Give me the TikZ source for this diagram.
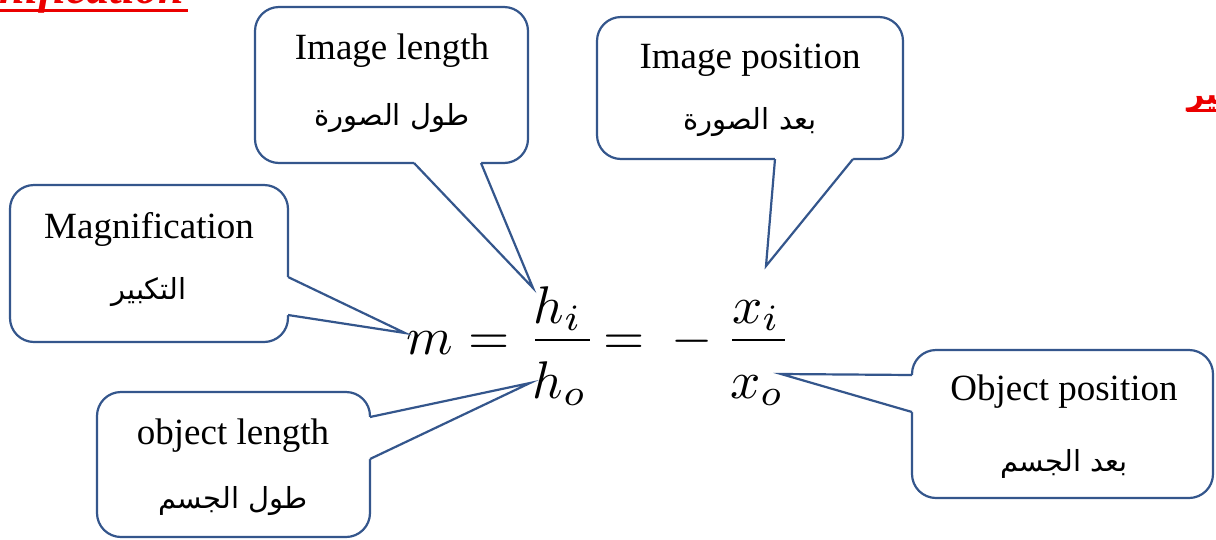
\documentclass[tikz,border=0pt]{standalone}
\usepackage{fontspec}
\setmainfont{Liberation Serif}
\newfontfamily\arabicfont[Script=Arabic]{DejaVu Sans}
\TeXXeTstate=1
\usetikzlibrary{calc}
\definecolor{bcol}{RGB}{52,86,140}
\definecolor{tred}{RGB}{235,0,0}
\tikzset{
  callout/.style={draw=bcol, line width=2.2pt, fill=white, rounded corners=24pt, inner sep=0pt},
  tail/.style={draw=bcol, line width=2.2pt, line join=miter, miter limit=30},
  entext/.style={font=\fontsize{37}{40}\selectfont, inner sep=0pt},
  artext/.style={font=\arabicfont\fontsize{29}{32}\selectfont, inner sep=0pt},
  eqn/.style={scale=5.3, inner sep=0pt, anchor=base},
  fracbar/.style={fill=black, inner sep=0pt, minimum height=2.6pt},
  redtitle/.style={text=tred, inner sep=0pt},
}
\begin{document}
\begin{tikzpicture}[x=1pt,y=-1pt]
\useasboundingbox (0,0) rectangle (1216,539);
\clip (0,0) rectangle (1216,539);
\fill[white] (0,0) rectangle (1216,539);

% ---- red titles (cut off by the page edges)
\node[redtitle, font=\fontsize{46}{50}\selectfont\bfseries\itshape, anchor=base east] (title) at (184,3) {Magnification};
\draw[tred, line width=3pt] ($(title.base west)+(0,7.5)$) -- ($(title.base east)+(4,7.5)$);
\node[redtitle, font=\arabicfont\bfseries\fontsize{30}{34}\selectfont, anchor=base west] (artitle) at (1187,104) {\beginR التكبير\endR};
\draw[tred, line width=3pt] ($(artitle.base west)+(0,6)$) -- ($(artitle.base east)+(0,6)$);

% ---- equation
\node[eqn] (m) at (430,354) {$m$};
\node[eqn] (eqa) at (489,354) {$=$};
\node[eqn] (hi) at (558,323) {$h_i$};
\node[fracbar, minimum width=55pt] (bara) at (562,340) {};
\node[eqn] (ho) at (560,398) {$h_o$};
\node[eqn] (eqb) at (624,354) {$=$};
\node[eqn] (minus) at (692,354) {$-$};
\node[eqn] (xi) at (756,323) {$x_i$};
\node[fracbar, minimum width=53pt] (barb) at (758,340) {};
\node[eqn] (xo) at (757,398) {$x_o$};

% ---- tips of the callouts
\coordinate (magtip) at (405,333);
\coordinate (iltip) at (533,288);
\coordinate (iptip) at (766,266);
\coordinate (oltip) at (530,383);
\coordinate (optip) at (781,374);

% ---- Magnification
\node[callout, minimum width=278pt, minimum height=157pt] (mag) at (149,263.5) {};
\coordinate (maga) at (288,277);
\coordinate (magb) at (288,315);
\fill[white] (maga) -- (magtip) -- (magb) -- ++(-4,0) -- ($(maga)+(-4,0)$) -- cycle;
\draw[tail] (maga) -- (magtip) -- (magb);
\node[entext] (magen) at (149,229) {Magnification};
\node[artext] (magar) at (149,292) {\beginR التكبير\endR};

% ---- Image length
\node[callout, minimum width=273pt, minimum height=156pt] (il) at (391.5,85) {};
\coordinate (ila) at (414,163);
\coordinate (ilb) at (481,163);
\fill[white] (ila) -- (iltip) -- (ilb) -- ++(0,-4) -- ($(ila)+(0,-4)$) -- cycle;
\draw[tail] (ila) -- (iltip) -- (ilb);
\node[entext] (ilen) at (392,51) {Image length};
\node[artext] (ilar) at (392,118) {\beginR طول الصورة\endR};

% ---- Image position
\node[callout, minimum width=306pt, minimum height=142pt] (ip) at (750,88) {};
\coordinate (ipa) at (775,159);
\coordinate (ipb) at (853,159);
\fill[white] (ipa) -- (iptip) -- (ipb) -- ++(0,-4) -- ($(ipa)+(0,-4)$) -- cycle;
\draw[tail] (ipa) -- (iptip) -- (ipb);
\node[entext] (ipen) at (750,60) {Image position};
\node[artext] (ipar) at (750,122) {\beginR بعد الصورة\endR};

% ---- object length
\node[callout, minimum width=273pt, minimum height=145pt] (ol) at (233.5,464.5) {};
\coordinate (ola) at (370,417);
\coordinate (olb) at (370,459);
\fill[white] (ola) -- (oltip) -- (olb) -- ++(-4,0) -- ($(ola)+(-4,0)$) -- cycle;
\draw[tail] (ola) -- (oltip) -- (olb);
\node[entext] (olen) at (233,436) {object length};
\node[artext] (olar) at (233,501) {\beginR طول الجسم\endR};

% ---- Object position
\node[callout, minimum width=301pt, minimum height=148pt] (op) at (1062.5,424) {};
\coordinate (opa) at (912,375);
\coordinate (opb) at (912,412);
\fill[white] (opa) -- (optip) -- (opb) -- ++(4,0) -- ($(opa)+(4,0)$) -- cycle;
\draw[tail] (opa) -- (optip) -- (opb);
\node[entext] (open) at (1064,392) {Object position};
\node[artext] (opar) at (1064,464) {\beginR بعد الجسم\endR};
\end{tikzpicture}
\end{document}
